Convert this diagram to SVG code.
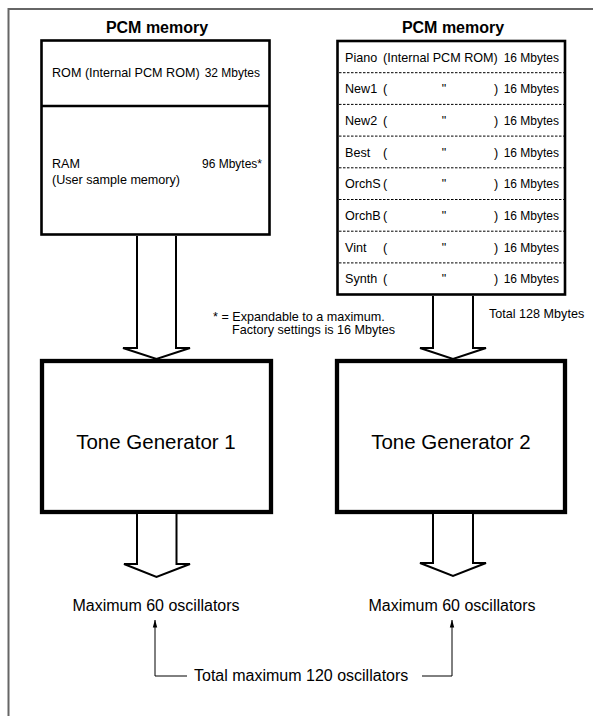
<svg xmlns="http://www.w3.org/2000/svg" width="593" height="716" viewBox="0 0 593 716">
<defs>
<style>
text{font-family:"Liberation Sans",Arial,sans-serif;fill:#000}
.t{font-size:12.6px}
.mb{font-size:12px;text-anchor:end}
.title{font-size:16px;font-weight:bold}
.big{font-size:20.5px}
.mid{font-size:16px}
.box{fill:#fff;stroke:#000;stroke-width:2.6}
.tg{fill:#fff;stroke:#000;stroke-width:4.3}
.dash{stroke:#000;stroke-width:1;stroke-dasharray:2.5 1.5;fill:none}
.fat{fill:#fff;stroke:#000;stroke-width:2;stroke-linejoin:miter}
.thin{fill:none;stroke:#000;stroke-width:1}
</style>
<marker id="ah" viewBox="0 0 8 8" refX="7.5" refY="4" markerWidth="8" markerHeight="8" markerUnits="userSpaceOnUse" orient="auto">
<path d="M0,1.8 L8,4 L0,6.2 Z" fill="#000"/>
</marker>
</defs>
<rect width="593" height="716" fill="#fff"/>
<path d="M8.5,716 V9 H593" fill="none" stroke="#666" stroke-width="2"/>

<g id="pcm1">
<text class="title" x="157" y="33" text-anchor="middle">PCM memory</text>
<rect class="box" x="41.5" y="40.5" width="228" height="194"/>
<line x1="41.5" y1="106" x2="269.5" y2="106" stroke="#000" stroke-width="2.4"/>
<text class="t" x="52" y="77">ROM (Internal PCM ROM)</text>
<text class="t mb" x="260" y="77">32 Mbytes</text>
<text class="t" x="52" y="168">RAM</text>
<text class="t" x="52" y="184">(User sample memory)</text>
<text class="t mb" x="262" y="168">96 Mbytes*</text>
</g>

<g id="pcm2">
<text class="title" x="453" y="33" text-anchor="middle">PCM memory</text>
<rect class="box" x="337.5" y="41" width="227.5" height="253.5"/>
<line class="dash" x1="339" y1="72.7" x2="564" y2="72.7"/>
<line class="dash" x1="339" y1="104.4" x2="564" y2="104.4"/>
<line class="dash" x1="339" y1="136.1" x2="564" y2="136.1"/>
<line class="dash" x1="339" y1="167.8" x2="564" y2="167.8"/>
<line class="dash" x1="339" y1="199.5" x2="564" y2="199.5"/>
<line class="dash" x1="339" y1="231.2" x2="564" y2="231.2"/>
<line class="dash" x1="339" y1="262.9" x2="564" y2="262.9"/>
<text class="t" x="345" y="61.5">Piano</text>
<text class="t" x="383" y="61.5">(Internal PCM ROM)</text>
<text class="t mb" x="559" y="61.5">16 Mbytes</text>
<text class="t" x="345" y="93.2">New1</text>
<text class="t" x="383" y="93.2">(</text>
<text class="t" x="444" y="93.2" text-anchor="middle">"</text>
<text class="t" x="494" y="93.2">)</text>
<text class="t mb" x="559" y="93.2">16 Mbytes</text>
<text class="t" x="345" y="124.9">New2</text>
<text class="t" x="383" y="124.9">(</text>
<text class="t" x="444" y="124.9" text-anchor="middle">"</text>
<text class="t" x="494" y="124.9">)</text>
<text class="t mb" x="559" y="124.9">16 Mbytes</text>
<text class="t" x="345" y="156.6">Best</text>
<text class="t" x="383" y="156.6">(</text>
<text class="t" x="444" y="156.6" text-anchor="middle">"</text>
<text class="t" x="494" y="156.6">)</text>
<text class="t mb" x="559" y="156.6">16 Mbytes</text>
<text class="t" x="345" y="188.3">OrchS</text>
<text class="t" x="383" y="188.3">(</text>
<text class="t" x="444" y="188.3" text-anchor="middle">"</text>
<text class="t" x="494" y="188.3">)</text>
<text class="t mb" x="559" y="188.3">16 Mbytes</text>
<text class="t" x="345" y="220">OrchB</text>
<text class="t" x="383" y="220">(</text>
<text class="t" x="444" y="220" text-anchor="middle">"</text>
<text class="t" x="494" y="220">)</text>
<text class="t mb" x="559" y="220">16 Mbytes</text>
<text class="t" x="345" y="251.7">Vint</text>
<text class="t" x="383" y="251.7">(</text>
<text class="t" x="444" y="251.7" text-anchor="middle">"</text>
<text class="t" x="494" y="251.7">)</text>
<text class="t mb" x="559" y="251.7">16 Mbytes</text>
<text class="t" x="345" y="283.4">Synth</text>
<text class="t" x="383" y="283.4">(</text>
<text class="t" x="444" y="283.4" text-anchor="middle">"</text>
<text class="t" x="494" y="283.4">)</text>
<text class="t mb" x="559" y="283.4">16 Mbytes</text>
</g>

<g id="tg1">
<rect class="tg" x="42" y="361" width="229" height="151"/>
<text class="big" x="156" y="449" text-anchor="middle">Tone Generator 1</text>
</g>

<g id="tg2">
<rect class="tg" x="337" y="361" width="228" height="151"/>
<text class="big" x="451" y="449" text-anchor="middle">Tone Generator 2</text>
</g>

<g id="notes">
<text class="t" x="213" y="321">* = Expandable to a maximum.</text>
<text class="t" x="232" y="334">Factory settings is 16 Mbytes</text>
<text class="t" x="489" y="318">Total 128 Mbytes</text>
</g>

<g id="out1"><text class="mid" x="156" y="611" text-anchor="middle">Maximum 60 oscillators</text></g>
<g id="out2"><text class="mid" x="452" y="611" text-anchor="middle">Maximum 60 oscillators</text></g>
<g id="total"><text class="mid" x="194" y="681">Total maximum 120 oscillators</text></g>

<g id="connectors">
<path class="fat" d="M137,236 V348 H123 L156.5,359 L190,348 H176 V236"/>
<path class="fat" d="M433,296 V348 H420 L453,359 L486,348 H473 V296"/>
<path class="fat" d="M137,514 V564 H124 L156.5,577 L190,564 H176.5 V514"/>
<path class="fat" d="M433,514 V563 H420 L453,576 L486,563 H473 V514"/>
<polyline class="thin" points="187,676 155,676 155,620" marker-end="url(#ah)"/>
<polyline class="thin" points="422,676 452,676 452,620" marker-end="url(#ah)"/>
</g>
</svg>
